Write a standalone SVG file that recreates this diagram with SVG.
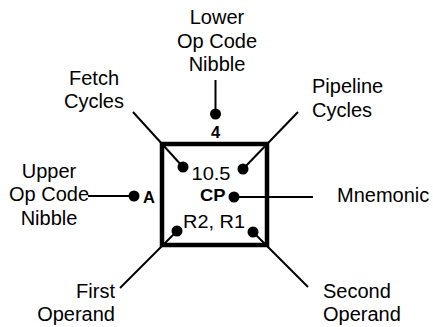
<svg xmlns="http://www.w3.org/2000/svg" width="433" height="327" viewBox="0 0 433 327">
<style>
.lbl{font-family:"Liberation Sans",Arial,sans-serif;font-size:20px;fill:#000}
.in{font-family:"Liberation Sans",Arial,sans-serif;font-size:18.5px;fill:#000}
.b{font-family:"Liberation Sans",Arial,sans-serif;font-size:16.5px;font-weight:bold;fill:#000}
.ln{stroke:#000;stroke-width:2;fill:none}
.dot{fill:#000}
</style>
<rect width="433" height="327" fill="#fff"/>
<g id="instruction-box">
<rect x="162" y="144" width="105" height="101" fill="none" stroke="#000" stroke-width="4.5"/>
<text class="b" x="215.5" y="138" text-anchor="middle">4</text>
<text class="b" x="143" y="202.5">A</text>
<text class="in" x="191.5" y="180" textLength="39" lengthAdjust="spacingAndGlyphs">10.5</text>
<text class="b" x="200" y="200.5" textLength="25.5" lengthAdjust="spacingAndGlyphs">CP</text>
<text class="in" x="183" y="228" textLength="62" lengthAdjust="spacingAndGlyphs">R2, R1</text>
</g>
<g id="connectors">
<line class="ln" x1="215.5" y1="80" x2="215.5" y2="114"/>
<line class="ln" x1="133" y1="112" x2="183" y2="167"/>
<line class="ln" x1="298" y1="112" x2="243" y2="169"/>
<line class="ln" x1="120" y1="288" x2="177" y2="231"/>
<line class="ln" x1="308" y1="287" x2="253" y2="232"/>
<line class="ln" x1="88" y1="196" x2="134" y2="196"/>
<line class="ln" x1="234" y1="197" x2="313" y2="197"/>
<circle class="dot" cx="215.5" cy="114" r="5.5"/>
<circle class="dot" cx="183" cy="167" r="5.5"/>
<circle class="dot" cx="243" cy="169" r="5.5"/>
<circle class="dot" cx="177" cy="231" r="5.5"/>
<circle class="dot" cx="253" cy="232" r="5.5"/>
<circle class="dot" cx="134" cy="196" r="5.5"/>
<circle class="dot" cx="234" cy="197" r="5.5"/>
</g>
<g id="lower-op-code-nibble">
<text class="lbl" text-anchor="middle"><tspan x="217" y="24">Lower</tspan><tspan x="217" y="47.5">Op Code</tspan><tspan x="217" y="71">Nibble</tspan></text>
</g>
<g id="fetch-cycles">
<text class="lbl" text-anchor="middle"><tspan x="94" y="85">Fetch</tspan><tspan x="94" y="108">Cycles</tspan></text>
</g>
<g id="pipeline-cycles">
<text class="lbl"><tspan x="312" y="93">Pipeline</tspan><tspan x="312" y="117">Cycles</tspan></text>
</g>
<g id="upper-op-code-nibble">
<text class="lbl" text-anchor="middle"><tspan x="49" y="178">Upper</tspan><tspan x="49" y="201">Op Code</tspan><tspan x="49" y="225">Nibble</tspan></text>
</g>
<g id="mnemonic">
<text class="lbl" x="337" y="202">Mnemonic</text>
</g>
<g id="first-operand">
<text class="lbl" text-anchor="end"><tspan x="115" y="298">First</tspan><tspan x="115" y="321">Operand</tspan></text>
</g>
<g id="second-operand">
<text class="lbl"><tspan x="323" y="298">Second</tspan><tspan x="323" y="321">Operand</tspan></text>
</g>
</svg>
